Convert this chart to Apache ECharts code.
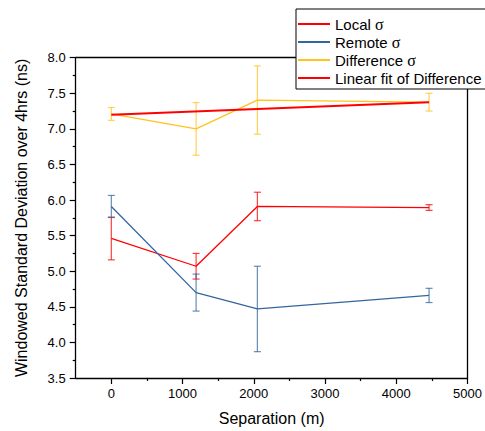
<!DOCTYPE html>
<html>
<head>
<meta charset="utf-8">
<script src="https://cdn.jsdelivr.net/npm/echarts@6/dist/echarts.min.js"></script>
<style>html,body{margin:0;padding:0;background:#fff;}#c{width:485px;height:431px;}</style>
</head>
<body>
<div id="c"></div>
<script>
// ---- data ----
const sepX = [0, 1190, 2050, 4460];
const localVals = [5.46, 5.07, 5.91, 5.895];
const localErr = [0.30, 0.18, 0.20, 0.04];
const remoteVals = [5.91, 4.70, 4.47, 4.66];
const remoteErr = [0.155, 0.26, 0.60, 0.10];
const diffVals = [7.21, 7.00, 7.405, 7.375];
const diffErr = [0.09, 0.37, 0.48, 0.125];
const fitX = [0, 4460];
const fitVals = [7.20, 7.375];
const xTickLabels = [0, 1000, 2000, 3000, 4000, 5000];
const xMinorTicks = [500, 1500, 2500, 3500, 4500];
const seriesNames = ['Local σ', 'Remote σ', 'Difference σ', 'Linear fit of Difference σ'];

const RED = '#ff0000', BLUE = '#33669e', YEL = '#ffc21f';
const FONT = 'Liberation Sans, Arial, sans-serif';

function pts(xs, ys) { return xs.map((x, i) => [x, ys[i]]); }
function errData(xs, ys, es) { return xs.map((x, i) => [x, ys[i] - es[i], ys[i] + es[i]]); }
function errSeries(xs, ys, es, color, z) {
  return {
    type: 'custom', silent: true, z: z, xAxisIndex: 0, yAxisIndex: 0,
    data: errData(xs, ys, es),
    encode: { x: 0, y: [1, 2] },
    renderItem: function (params, api) {
      const x = api.value(0);
      const lo = api.coord([x, api.value(1)]);
      const hi = api.coord([x, api.value(2)]);
      const w = 3.5;
      const st = { stroke: color, lineWidth: 1.2, opacity: 0.75 };
      return {
        type: 'group',
        children: [
          { type: 'line', shape: { x1: lo[0], y1: lo[1], x2: hi[0], y2: hi[1] }, style: st },
          { type: 'line', shape: { x1: lo[0] - w, y1: lo[1], x2: lo[0] + w, y2: lo[1] }, style: st },
          { type: 'line', shape: { x1: hi[0] - w, y1: hi[1], x2: hi[0] + w, y2: hi[1] }, style: st }
        ]
      };
    }
  };
}

const chart = echarts.init(document.getElementById('c'), null, { renderer: 'svg' });
const axisLine = { show: true, onZero: false, lineStyle: { color: '#000', width: 1.3 } };
chart.setOption({
  animation: false,
  backgroundColor: '#fff',
  textStyle: { fontFamily: FONT },
  grid: { left: 75.7, right: 11.7, top: 57.7, bottom: 51, containLabel: false },
  legend: {
    orient: 'vertical', left: 296, top: 9,
    data: seriesNames,
    icon: 'rect', itemWidth: 32, itemHeight: 2, itemGap: 2,
    padding: [7, 6, 3, 2],
    backgroundColor: '#fff', borderColor: '#000', borderWidth: 1,
    textStyle: {
      fontFamily: FONT, fontSize: 15, color: '#000', lineHeight: 15,
      rich: { s: { fontFamily: 'Liberation Serif, serif', fontSize: 16, color: '#000', lineHeight: 15 } }
    },
    formatter: function (n) { return n.replace('σ', '{s|σ}'); },
    z: 10
  },
  xAxis: [
    {
      type: 'value', position: 'bottom', min: -500, max: 5000, interval: 500,
      name: 'Separation (m)', nameLocation: 'middle', nameGap: 32,
      nameTextStyle: { fontFamily: FONT, fontSize: 16, color: '#000' },
      axisLine: axisLine,
      axisTick: { show: true, length: 6, customValues: xTickLabels, lineStyle: { color: '#000', width: 1.2 } },
      axisLabel: { show: true, customValues: xTickLabels, fontFamily: FONT, fontSize: 13, color: '#000', margin: 9, formatter: v => String(v) },
      splitLine: { show: false }
    },
    {
      type: 'value', position: 'bottom', min: -500, max: 5000, interval: 500,
      axisLine: { show: false, onZero: false },
      axisTick: { show: true, length: 3, customValues: xMinorTicks, lineStyle: { color: '#000', width: 1.2 } },
      axisLabel: { show: false },
      splitLine: { show: false }
    },
    {
      type: 'value', position: 'top', min: -500, max: 5000, interval: 500,
      axisLine: axisLine, axisTick: { show: false }, axisLabel: { show: false }, splitLine: { show: false }
    }
  ],
  yAxis: [
    {
      type: 'value', position: 'left', min: 3.5, max: 8, interval: 0.5,
      name: 'Windowed Standard Deviation over 4hrs (ns)', nameLocation: 'middle', nameGap: 46,
      nameTextStyle: { fontFamily: FONT, fontSize: 16, color: '#000' },
      axisLine: axisLine,
      axisTick: { show: true, length: 6, lineStyle: { color: '#000', width: 1.2 } },
      minorTick: { show: true, splitNumber: 2, length: 3, lineStyle: { color: '#000', width: 1.2 } },
      axisLabel: { fontFamily: FONT, fontSize: 13, color: '#000', margin: 10, formatter: v => v.toFixed(1) },
      splitLine: { show: false }
    },
    {
      type: 'value', position: 'right', min: 3.5, max: 8, interval: 0.5,
      axisLine: axisLine, axisTick: { show: false }, axisLabel: { show: false }, splitLine: { show: false }
    }
  ],
  series: [
    errSeries(sepX, localVals, localErr, RED, 3),
    errSeries(sepX, remoteVals, remoteErr, BLUE, 3),
    errSeries(sepX, diffVals, diffErr, YEL, 3),
    { name: seriesNames[0], type: 'line', data: pts(sepX, localVals), symbol: 'none', color: RED, lineStyle: { color: RED, width: 1.3 }, z: 4 },
    { name: seriesNames[1], type: 'line', data: pts(sepX, remoteVals), symbol: 'none', color: BLUE, lineStyle: { color: BLUE, width: 1.3 }, z: 4 },
    { name: seriesNames[2], type: 'line', data: pts(sepX, diffVals), symbol: 'none', color: YEL, lineStyle: { color: YEL, width: 1.3 }, z: 4 },
    { name: seriesNames[3], type: 'line', data: pts(fitX, fitVals), symbol: 'none', color: RED, lineStyle: { color: RED, width: 2 }, z: 5 }
  ]
});
</script>
</body>
</html>
